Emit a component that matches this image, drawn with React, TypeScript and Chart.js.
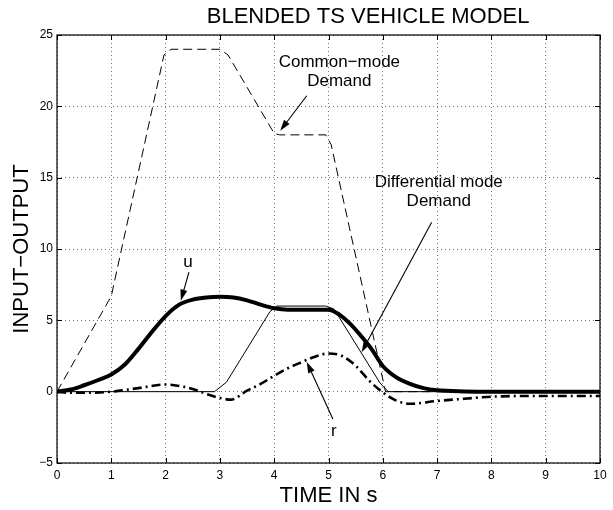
import React, { useEffect, useRef } from 'react';
import { Chart, registerables } from 'chart.js';

Chart.register(...registerables);

const FONT = '"Liberation Sans", Arial, Helvetica, sans-serif';

// ---- data ----
const TITLE = 'BLENDED TS VEHICLE MODEL';
const X_LABEL = 'TIME IN s';
const Y_LABEL = 'INPUT\u2212OUTPUT';

const X_MIN = 0;
const X_MAX = 10;
const X_STEP = 1;
const Y_MIN = -5;
const Y_MAX = 25;
const Y_STEP = 5;

// Common-mode demand (dashed)
const commonT = [0, 1, 1.97, 2.1, 3.0, 3.15, 4.0, 4.1, 4.95, 5.05, 6.05, 10];
const commonV = [0, 6.7, 23.6, 24, 24, 23.6, 18.1, 18, 18, 17.3, 0, 0];

// Differential mode demand (thin solid)
const diffT = [0, 2.9, 3.12, 3.92, 4.05, 4.95, 5.1, 5.95, 6.1, 10];
const diffV = [0, 0, 0.66, 5.6, 6, 6, 5.8, 0.6, 0, 0];

// u (thick solid)
const uT = [0, 0.25, 0.5, 0.75, 1, 1.25, 1.5, 1.75, 2, 2.25, 2.5, 2.75, 3, 3.25, 3.5, 3.75, 4, 4.25, 4.5, 4.75, 5, 5.2, 5.4, 5.6, 5.8, 6, 6.25, 6.5, 6.75, 7, 7.5, 8, 9, 10];
const uV = [0, 0.15, 0.45, 0.8, 1.2, 1.9, 3.0, 4.2, 5.3, 6.1, 6.45, 6.6, 6.65, 6.6, 6.4, 6.1, 5.85, 5.75, 5.75, 5.75, 5.75, 5.4, 4.75, 3.9, 2.95, 1.8, 1.0, 0.55, 0.25, 0.1, 0.02, 0, 0, 0];

// r (thick dash-dot)
const rT = [0, 0.25, 0.5, 1, 1.5, 2, 2.25, 2.5, 2.75, 3, 3.2, 3.5, 3.75, 4, 4.25, 4.5, 4.75, 5, 5.25, 5.5, 5.75, 6, 6.25, 6.5, 7, 7.5, 8, 9, 10];
const rV = [0, -0.08, -0.08, 0, 0.25, 0.5, 0.4, 0.19, -0.16, -0.44, -0.56, 0.07, 0.54, 1.12, 1.64, 2.06, 2.45, 2.68, 2.5, 1.82, 0.77, -0.05, -0.63, -0.85, -0.65, -0.5, -0.35, -0.3, -0.3];

// ---- annotations (data coordinates) ----
const NOTES = [
  { text: 'Common\u2212mode', x: 5.2, y: 23.1 },
  { text: 'Demand', x: 5.2, y: 21.75 },
  { text: 'Differential mode', x: 7.03, y: 14.7 },
  { text: 'Demand', x: 7.03, y: 13.36 },
  { text: 'u', x: 2.41, y: 9.1 },
  { text: 'r', x: 5.1, y: -2.75 },
];
const ARROWS = [
  { x0: 4.6, y0: 20.74, x1: 4.11, y1: 18.29 },
  { x0: 6.9, y0: 11.87, x1: 5.61, y1: 2.76 },
  { x0: 2.43, y0: 8.37, x1: 2.28, y1: 6.38 },
  { x0: 5.08, y0: -1.91, x1: 4.6, y1: 2.08 },
];
const TITLE_X = 5.73;

const pts = (t: number[], v: number[]) => t.map((x, i) => ({ x, y: v[i] }));
const fmt = (v: number) => (v < 0 ? '\u2212' + Math.abs(v) : String(v));

const framePlugin = {
  id: 'frame',
  afterDraw(chart: any) {
    const { ctx, chartArea } = chart;
    const { left, right, top, bottom } = chartArea;
    const xs = chart.scales.x;
    const ys = chart.scales.y;
    ctx.save();
    ctx.setLineDash([]);
    ctx.strokeStyle = '#000';
    ctx.lineWidth = 1.2;
    ctx.strokeRect(left, top, right - left, bottom - top);
    ctx.lineWidth = 1;
    ctx.beginPath();
    xs.ticks.forEach((t: any) => {
      const p = Math.round(xs.getPixelForValue(t.value)) + 0.5;
      ctx.moveTo(p, bottom);
      ctx.lineTo(p, bottom - 5);
      ctx.moveTo(p, top);
      ctx.lineTo(p, top + 5);
    });
    ys.ticks.forEach((t: any) => {
      const p = Math.round(ys.getPixelForValue(t.value)) + 0.5;
      ctx.moveTo(left, p);
      ctx.lineTo(left + 5, p);
      ctx.moveTo(right, p);
      ctx.lineTo(right - 5, p);
    });
    ctx.stroke();

    // title
    ctx.fillStyle = '#000';
    ctx.textAlign = 'center';
    ctx.textBaseline = 'middle';
    ctx.font = `22px ${FONT}`;
    ctx.fillText(TITLE, xs.getPixelForValue(TITLE_X), top - 18);

    // notes
    ctx.font = `17px ${FONT}`;
    NOTES.forEach((n) => {
      ctx.fillText(n.text, xs.getPixelForValue(n.x), ys.getPixelForValue(n.y));
    });

    // arrows
    ARROWS.forEach((a) => {
      const x0 = xs.getPixelForValue(a.x0);
      const y0 = ys.getPixelForValue(a.y0);
      const x1 = xs.getPixelForValue(a.x1);
      const y1 = ys.getPixelForValue(a.y1);
      const ang = Math.atan2(y1 - y0, x1 - x0);
      const L = 11;
      const W = 3.5;
      const bx = x1 - L * Math.cos(ang);
      const by = y1 - L * Math.sin(ang);
      ctx.lineWidth = 1.1;
      ctx.beginPath();
      ctx.moveTo(x0, y0);
      ctx.lineTo(bx, by);
      ctx.stroke();
      ctx.beginPath();
      ctx.moveTo(x1, y1);
      ctx.lineTo(bx + W * Math.sin(ang), by - W * Math.cos(ang));
      ctx.lineTo(bx - W * Math.sin(ang), by + W * Math.cos(ang));
      ctx.closePath();
      ctx.fill();
    });
    ctx.restore();
  },
};

export default function App() {
  const ref = useRef<HTMLCanvasElement | null>(null);
  useEffect(() => {
    if (!ref.current) return;
    const chart = new Chart(ref.current, {
      type: 'line',
      data: {
        datasets: [
          {
            label: 'Common-mode Demand',
            data: pts(commonT, commonV),
            borderColor: '#000',
            borderWidth: 1,
            borderDash: [9, 5],
            pointRadius: 0,
            tension: 0,
          },
          {
            label: 'Differential mode Demand',
            data: pts(diffT, diffV),
            borderColor: '#000',
            borderWidth: 1,
            pointRadius: 0,
            tension: 0,
          },
          {
            label: 'r',
            data: pts(rT, rV),
            borderColor: '#000',
            borderWidth: 2.6,
            borderDash: [9, 4, 2, 4],
            pointRadius: 0,
            cubicInterpolationMode: 'monotone',
          },
          {
            label: 'u',
            data: pts(uT, uV),
            borderColor: '#000',
            borderWidth: 4,
            pointRadius: 0,
            cubicInterpolationMode: 'monotone',
          },
        ],
      },
      options: {
        animation: false,
        responsive: false,
        devicePixelRatio: 1,
        layout: { padding: { left: 0, right: 13, top: 35, bottom: 0 } },
        plugins: {
          legend: { display: false },
          title: { display: false },
          tooltip: { enabled: false },
        },
        scales: {
          x: {
            type: 'linear',
            min: X_MIN,
            max: X_MAX,
            afterFit: (s: any) => {
              s.height = 47;
            },
            ticks: {
              stepSize: X_STEP,
              color: '#000',
              padding: 5,
              maxRotation: 0,
              font: { family: FONT, size: 12 },
              callback: (v: any) => fmt(Number(v)),
            },
            grid: {
              color: 'rgba(0,0,0,0.55)',
              lineWidth: 1,
              drawTicks: false,
            },
            border: { display: false, dash: [1, 3] },
            title: {
              display: true,
              text: X_LABEL,
              color: '#000',
              font: { family: FONT, size: 22 },
              padding: { top: 0, bottom: 1 },
            },
          },
          y: {
            type: 'linear',
            min: Y_MIN,
            max: Y_MAX,
            afterFit: (s: any) => {
              s.width = 57;
            },
            ticks: {
              stepSize: Y_STEP,
              color: '#000',
              padding: 4,
              font: { family: FONT, size: 12 },
              callback: (v: any) => fmt(Number(v)),
            },
            grid: {
              color: 'rgba(0,0,0,0.55)',
              lineWidth: 1,
              drawTicks: false,
            },
            border: { display: false, dash: [1, 3] },
            title: {
              display: true,
              text: Y_LABEL,
              color: '#000',
              font: { family: FONT, size: 22 },
              padding: { top: 9, bottom: 0 },
            },
          },
        },
      },
      plugins: [framePlugin],
    } as any);
    return () => chart.destroy();
  }, []);
  return (
    <div style={{ position: 'absolute', left: 0, top: 0, width: 613, height: 510, background: '#fff' }}>
      <canvas ref={ref} width={613} height={510} style={{ width: 613, height: 510, display: 'block' }} />
    </div>
  );
}
